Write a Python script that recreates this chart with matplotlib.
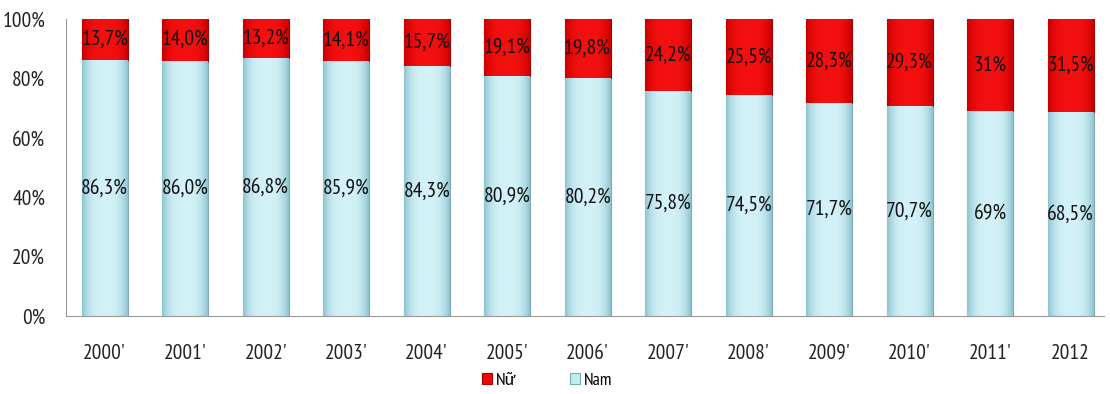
import matplotlib
matplotlib.use('Agg')
import matplotlib.pyplot as plt
import numpy as np
from matplotlib.colors import LinearSegmentedColormap

# Ty le nam / nu theo nam
years = ["2000'", "2001'", "2002'", "2003'", "2004'", "2005'", "2006'",
         "2007'", "2008'", "2009'", "2010'", "2011'", "2012"]
nam = [86.3, 86.0, 86.8, 85.9, 84.3, 80.9, 80.2, 75.8, 74.5, 71.7, 70.7, 69, 68.5]
nu = [13.7, 14.0, 13.2, 14.1, 15.7, 19.1, 19.8, 24.2, 25.5, 28.3, 29.3, 31, 31.5]
nam_labels = ['86,3%', '86,0%', '86,8%', '85,9%', '84,3%', '80,9%', '80,2%',
              '75,8%', '74,5%', '71,7%', '70,7%', '69%', '68,5%']
nu_labels = ['13,7%', '14,0%', '13,2%', '14,1%', '15,7%', '19,1%', '19,8%',
             '24,2%', '25,5%', '28,3%', '29,3%', '31%', '31,5%']

plt.rcParams['font.family'] = ['PT Sans Narrow', 'Carlito', 'DejaVu Sans']

fig = plt.figure(figsize=(11.1, 3.94), dpi=100)
ax = fig.add_axes([0.0595, 0.198, 0.9355, 0.754])

x = np.arange(len(years))
w = 0.57
bars_nam = ax.bar(x, nam, w, color='#c2ebf3', edgecolor='#7fa9b3', linewidth=0.8, label='Nam')
bars_nu = ax.bar(x, nu, w, bottom=nam, color='#ee0a0a', edgecolor='#a00000', linewidth=0.8, label='Nữ')

# do bong ngang cho cot xanh
g = np.linspace(0, 1, 64)
g = 1 - (np.abs(g - 0.5) * 2) ** 3
grad = np.tile(g, (16, 1))
cm = LinearSegmentedColormap.from_list('bl', ['#8ec4d1', '#d3f2f8'])
for b in bars_nam:
    x0, y0 = b.get_x(), b.get_y()
    im = ax.imshow(grad, cmap=cm, aspect='auto', interpolation='bilinear',
                   extent=[x0, x0 + b.get_width(), y0, y0 + b.get_height()], zorder=b.get_zorder())
    im.set_clip_path(b)

# do bong cho cot do
cm2 = LinearSegmentedColormap.from_list('rd', ['#c80000', '#f51010'])
for b in bars_nu:
    x0, y0 = b.get_x(), b.get_y()
    im = ax.imshow(grad, cmap=cm2, aspect='auto', interpolation='bilinear',
                   extent=[x0, x0 + b.get_width(), y0, y0 + b.get_height()], zorder=b.get_zorder())
    im.set_clip_path(b)

for i in range(len(years)):
    ax.text(x[i], nam[i] / 2, nam_labels[i], ha='center', va='center', fontsize=15.5, color='#111111', zorder=5)
    ax.text(x[i], nam[i] + nu[i] / 2, nu_labels[i], ha='center', va='center', fontsize=15.5, color='#111111', zorder=5)

ax.set_xlim(-0.48, 12.42)
ax.set_ylim(0, 100)
ax.set_yticks([0, 20, 40, 60, 80, 100])
ax.set_yticklabels(['0%', '20%', '40%', '60%', '80%', '100%'])
ax.set_xticks(x)
ax.set_xticklabels(years)
ax.tick_params(axis='both', length=0, labelsize=15.5, colors='#222222')
ax.tick_params(axis='x', pad=20)
ax.tick_params(axis='y', pad=15)
for s in ['top', 'right']:
    ax.spines[s].set_visible(False)
for s in ['left', 'bottom']:
    ax.spines[s].set_color('#999999')

h, l = ax.get_legend_handles_labels()
fig.legend(h[::-1], l[::-1], loc='center', bbox_to_anchor=(0.493, 0.033), ncol=2, frameon=False,
           fontsize=13, handlelength=0.55, handleheight=0.55, columnspacing=3.0, handletextpad=0.2)

fig.savefig('out.png', dpi=100)
